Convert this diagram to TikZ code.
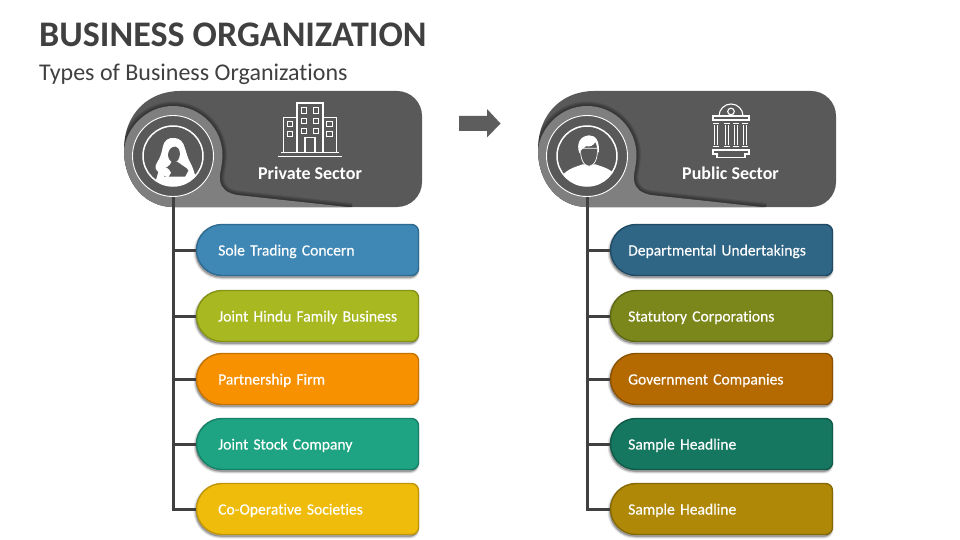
\documentclass[tikz,border=0pt]{standalone}
\usepackage{fontspec}
\setmainfont[Ligatures=NoCommon]{Carlito}
\newfontfamily\pillfont[FakeBold=0.25,WordSpace=0.75,Ligatures=NoCommon]{Carlito}
\definecolor{ink}{HTML}{404040}
\definecolor{panelc}{HTML}{595959}
\definecolor{ringc}{HTML}{7F7F7F}
\definecolor{lblue}{HTML}{3F87B5}
\definecolor{lblueb}{HTML}{2F6A90}
\definecolor{lgreen}{HTML}{A8B820}
\definecolor{lgreenb}{HTML}{859218}
\definecolor{lorange}{HTML}{F79100}
\definecolor{lorangeb}{HTML}{C47300}
\definecolor{lteal}{HTML}{1FA483}
\definecolor{ltealb}{HTML}{168068}
\definecolor{lyellow}{HTML}{F0BC0C}
\definecolor{lyellowb}{HTML}{BF9508}
\definecolor{rblue}{HTML}{2F6585}
\definecolor{rblueb}{HTML}{214A63}
\definecolor{rgreen}{HTML}{7C871B}
\definecolor{rgreenb}{HTML}{5E6714}
\definecolor{rorange}{HTML}{B46A00}
\definecolor{rorangeb}{HTML}{8A5100}
\definecolor{rteal}{HTML}{15775F}
\definecolor{rtealb}{HTML}{0F5A48}
\definecolor{ryellow}{HTML}{AE8806}
\definecolor{ryellowb}{HTML}{866904}
\tikzset{
  pilltext/.style={anchor=west,minimum width=223pt,minimum height=52pt,inner xsep=22pt,inner ysep=0pt,
    text width=179pt,align=left,text=white,font=\pillfont\fontsize{15.6}{18}\selectfont,text height=11pt,text depth=0pt},
  headtext/.style={text=white,font=\bfseries\fontsize{18}{20}\selectfont,inner sep=0pt},
  trunk/.style={draw=ink,line width=3pt,line join=miter},
  avatar/.style={circle,draw=white,line width=.9pt,minimum size=81pt,inner sep=0pt},
  iconline/.style={draw=white,line width=1.3pt,line join=miter},
  winbox/.style={draw=white,line width=1.2pt},
}
\newcommand{\pillpath}[1]{(222,#1+.5) -- (411.5,#1+.5) arc[start angle=-90,end angle=0,radius=7] -- (418.5,#1+44.5) arc[start angle=0,end angle=90,radius=7] -- (222,#1+51.5) arc[start angle=90,end angle=270,radius=25.5] -- cycle}
% #6 = text offset from the pill's left end
\newcommand{\pill}[6]{%
  \foreach \w in {4,2.5,1}{\fill[black,opacity=.09,shift={(-1,2)},draw=black,line width=\w pt] \pillpath{#2};}
  \draw[fill=#3,draw=#4,line width=1.4pt] \pillpath{#2};
  \node[pilltext,inner xsep=#6pt,text width=223pt-2*#6pt] (#1) at (196,#2+26) {\mbox{#5}};}
\newcommand{\panelpath}{(124,150) .. controls (124,112) and (150,91) .. (180,91) -- (397,91) arc[start angle=-90,end angle=0,radius=25] -- (422,182) arc[start angle=0,end angle=90,radius=25] -- (173,207) .. controls (146,207) and (124,184) .. (124,150) -- cycle}
\newcommand{\lightpath}{(173,106) arc[start angle=-90,end angle=0,radius=49.5] .. controls (222,168) and (219,175) .. (220,180) .. controls (221,189) and (227,193) .. (237,195) -- (352,207.5) -- (173,207.5) .. controls (146,207.5) and (123.5,184) .. (123.5,156) .. controls (123.5,129) and (146,106) .. (173,106) -- cycle}
\newcommand{\panelbase}{%
  \fill[panelc] \panelpath;
  \begin{scope}
    \clip \panelpath;
    \foreach \w in {9,7,5,3}{\draw[black,opacity=.1,line width=\w pt] \lightpath;}
    \fill[ringc] \lightpath;
  \end{scope}
  \fill[panelc] (173,156) circle (40.5);}
\newcommand{\woman}{%
  \begin{scope}
    \clip (173,156) circle (30);
    \begin{scope}[shift={(135,120)},scale=.33333]
      \fill[white] (118,54) .. controls (100,52) and (88,62) .. (84,78) .. controls (80,100) and (76,112) .. (66,128) .. controls (58,140) and (62,150) .. (70,156) -- (60,190) -- (60,230) -- (180,230) -- (180,165) .. controls (176,150) and (172,140) .. (166,128) .. controls (158,115) and (155,100) .. (150,85) .. controls (145,65) and (135,55) .. (118,54) -- cycle;
      \fill[panelc] (100,98) .. controls (104,84) and (112,80) .. (122,80) .. controls (134,84) and (136,98) .. (134,108) .. controls (130,122) and (124,128) .. (116,128) .. controls (104,126) and (96,110) .. (100,98) -- cycle;
      \fill[panelc] (110,125) -- (126,125) -- (155,145) -- (160,152) -- (150,170) -- (88,170) -- (78,148) .. controls (90,145) and (105,140) .. (110,125) -- cycle;
      \fill[white] (78,148) .. controls (90,135) and (102,145) .. (108,158) -- (100,172) -- (80,165) -- cycle;
    \end{scope}
  \end{scope}}
\newcommand{\man}{%
  \begin{scope}
    \clip (173,156) circle (30);
    \begin{scope}[shift={(136,120)},scale=.33333]
      \fill[white] (30,175) .. controls (50,145) and (80,140) .. (98,133) -- (136,133) .. controls (155,140) and (185,145) .. (205,175) -- (205,240) -- (30,240) -- cycle;
      \draw[white,fill=panelc,line width=.7pt] (92,85) .. controls (90,115) and (100,137) .. (117,139) .. controls (134,137) and (144,115) .. (142,85) -- cycle;
      \fill[white] (88,100) .. controls (78,70) and (90,48) .. (118,46) .. controls (138,46) and (150,65) .. (146,100) .. controls (143,92) and (142,80) .. (136,66) .. controls (130,78) and (118,82) .. (108,78) .. controls (105,84) and (92,86) .. (88,100) -- cycle;
    \end{scope}
  \end{scope}}
\newcommand{\building}{%
  \draw[iconline] (297,152) -- (297,103) -- (323,103) -- (323,152);
  \draw[iconline] (297,117.5) -- (283.5,117.5) -- (283.5,152);
  \draw[iconline] (323,117.5) -- (336.5,117.5) -- (336.5,152);
  \foreach \p in {(304,110.5),(316,110.5),(304,121),(316,121),(304,131),(316,131),(290,124),(290,134),(329.5,124),(329.5,134)}
    {\draw[winbox] \p ++(-2.7,-2.7) rectangle ++(5.4,5.4);}
  \draw[iconline] (305,152) -- (305,137.5) -- (315,137.5) -- (315,152);
  \draw[iconline] (281,152.5) -- (339,152.5);
  \draw[white,line width=1.8pt] (278,156.5) -- (342,156.5);}
\newcommand{\museum}{%
  \draw[iconline,line width=1.1pt] (305,116) arc[start angle=180,end angle=360,radius=12];
  \draw[iconline,line width=1.1pt] (317,111.5) circle (3.3);
  \draw[iconline,line width=1.1pt] (299,116) rectangle (335,120);
  \foreach \c in {302,312.5,322,331}{
    \draw[iconline,line width=1pt] (\c-1.5,125) -- (\c-1.5,145) (\c+1.5,125) -- (\c+1.5,145)
      (\c-3,123.5) -- (\c+3,123.5) (\c-3,146.5) -- (\c+3,146.5);}
  \draw[iconline,line width=1.1pt] (299,150) -- (335,150) -- (335,154) -- (331,154) -- (331,157.5) -- (303,157.5) -- (303,154) -- (299,154) -- cycle;}
\begin{document}
\begin{tikzpicture}[x=1pt,y=-1pt]
\useasboundingbox (0,0) rectangle (960,540);
\fill[white] (0,0) rectangle (960,540);
\node[anchor=base west,inner sep=0pt,text=ink,font=\bfseries\fontsize{36}{40}\selectfont] (title) at (39,47) {BUSINESS ORGANIZATION};
\node[anchor=base west,inner sep=0pt,text=ink,font=\fontsize{24}{28}\selectfont] (subtitle) at (39,81) {Types of Business Organizations};
% arrow
\fill[ink!85!white] (459,116) -- (487,116) -- (487,109) -- (500.5,123.5) -- (487,137.5) -- (487,131) -- (459,131) -- cycle;
% left sector
\panelbase
\woman
\building
\node[avatar] (avl) at (173,156) {};
\draw[white,line width=1.5pt] (173,156) circle (30);
\node[headtext] (headl) at (310,173) {Private Sector};
\pill{la}{224}{lblue}{lblueb}{Sole Trading Concern}{22}
\pill{lb}{290}{lgreen}{lgreenb}{Joint Hindu Family Business}{22}
\pill{lc}{353}{lorange}{lorangeb}{Partnership Firm}{22}
\pill{ld}{418}{lteal}{ltealb}{Joint Stock Company}{22}
\pill{le}{483}{lyellow}{lyellowb}{Co-Operative Societies}{22}
\draw[trunk] (avl.south) -- (avl.south |- le.west) -- (le.west);
\foreach \n in {la,lb,lc,ld}{\draw[trunk] (avl.south |- \n.west) -- (\n.west);}
% right sector
\begin{scope}[shift={(414,0)}]
\panelbase
\man
\museum
\node[avatar] (avr) at (173,156) {};
\draw[white,line width=1.5pt] (173,156) circle (30);
\node[headtext] (headr) at (316.5,173) {Public Sector};
\pill{ra}{224}{rblue}{rblueb}{Departmental Undertakings}{18}
\pill{rb}{290}{rgreen}{rgreenb}{Statutory Corporations}{18}
\pill{rc}{353}{rorange}{rorangeb}{Government Companies}{18}
\pill{rd}{418}{rteal}{rtealb}{Sample Headline}{18}
\pill{re}{483}{ryellow}{ryellowb}{Sample Headline}{18}
\end{scope}
\draw[trunk] (avr.south) -- (avr.south |- re.west) -- (re.west);
\foreach \n in {ra,rb,rc,rd}{\draw[trunk] (avr.south |- \n.west) -- (\n.west);}
\end{tikzpicture}
\end{document}
